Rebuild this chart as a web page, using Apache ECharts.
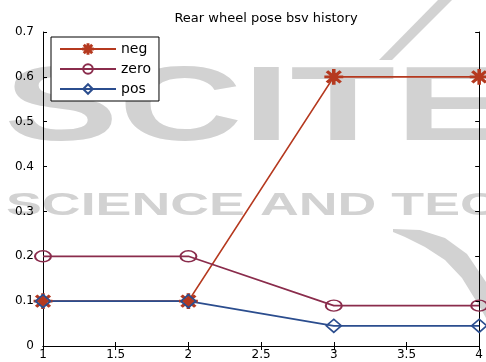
<!DOCTYPE html>
<html>
<head>
<meta charset="utf-8">
<script src="https://cdn.jsdelivr.net/npm/echarts@6/dist/echarts.min.js"></script>
<style>
  html, body { margin: 0; padding: 0; background: #fff; }
  #chart { width: 486px; height: 362px; }
</style>
</head>
<body>
<div id="chart"></div>
<script>
// bsv history, steps 1..4
const steps = [1, 2, 3, 4]
const negValues = [0.1, 0.1, 0.6, 0.6]
const zeroValues = [0.2, 0.2, 0.09, 0.09]
const posValues = [0.1, 0.1, 0.045, 0.045]

const FONT = '"DejaVu Sans", Verdana, sans-serif'
const MARK = '#d2d2d2'

// matlab style '*' marker
const asterisk = 'path://M0,9L20,9L20,11L0,11Z M9,0L11,0L11,20L9,20Z M2,3.4L3.4,2L18,16.6L16.6,18Z M16.6,2L18,3.4L3.4,18L2,16.6Z'

function pairs(values) {
  return steps.map((s, i) => [s, values[i]])
}

function lineSeries(name, values, color, symbol, size, fill) {
  return {
    name: name,
    type: 'line',
    data: pairs(values),
    symbol: symbol,
    symbolSize: size,
    showAllSymbol: true,
    lineStyle: { color: color, width: 1.7 },
    itemStyle: { color: fill, borderColor: color, borderWidth: 1.7 },
    emphasis: { disabled: true },
    z: 3
  }
}

const chart = echarts.init(document.getElementById('chart'))

chart.setOption({
  animation: false,
  backgroundColor: '#fff',
  title: {
    text: 'Rear wheel pose bsv history',
    left: 261,
    top: 7,
    textAlign: 'center',
    textStyle: { fontFamily: FONT, fontSize: 13, fontWeight: 'normal', color: '#000' }
  },
  // faint publisher watermark behind the plot
  graphic: [
    {
      type: 'text', x: 4, y: 58, scaleX: 1.62, z: 0, silent: true,
      style: { text: 'SCITE', font: 'bold 106px "Liberation Sans", Arial, sans-serif', fill: MARK }
    },
    {
      type: 'text', x: 6, y: 190, scaleX: 1.68, z: 0, silent: true,
      style: { text: 'SCIENCE AND TEC', font: 'bold 32px "Liberation Sans", Arial, sans-serif', fill: MARK }
    },
    {
      type: 'polygon', z: 0, silent: true,
      shape: { points: [[438, 0], [452, 0], [392, 60], [379, 60]] },
      style: { fill: MARK }
    },
    {
      type: 'polygon', z: 0, silent: true,
      shape: { points: [[393, 229], [420, 230], [445, 238], [467, 254], [486, 282], [486, 318],
        [478, 304], [462, 278], [445, 260], [425, 247], [405, 237], [393, 232]] },
      style: { fill: MARK }
    }
  ],
  legend: {
    orient: 'vertical',
    left: 51,
    top: 37,
    itemWidth: 56,
    itemHeight: 12,
    itemGap: 6,
    padding: [5, 8, 5, 8],
    backgroundColor: '#fff',
    borderColor: '#000',
    borderWidth: 1,
    borderRadius: 0,
    textStyle: { fontFamily: FONT, fontSize: 14, color: '#000' },
    data: ['neg', 'zero', 'pos']
  },
  grid: { left: 43, right: 3, top: 32, bottom: 16 },
  xAxis: [
    {
      type: 'value', min: 1, max: 4, interval: 0.5,
      axisLine: { lineStyle: { color: '#000', width: 1 } },
      axisTick: { inside: true, length: 4, lineStyle: { color: '#000' } },
      axisLabel: { color: '#000', fontFamily: FONT, fontSize: 12, margin: 3 },
      splitLine: { show: false }
    },
    {
      type: 'value', position: 'top', min: 1, max: 4, interval: 0.5,
      axisLine: { show: true, lineStyle: { color: '#000', width: 1 } },
      axisTick: { show: true, inside: true, length: 4, lineStyle: { color: '#000' } },
      axisLabel: { show: false },
      splitLine: { show: false }
    }
  ],
  yAxis: [
    {
      type: 'value', min: 0, max: 0.7, interval: 0.1,
      axisLine: { show: true, lineStyle: { color: '#000', width: 1 } },
      axisTick: { show: true, inside: true, length: 4, lineStyle: { color: '#000' } },
      axisLabel: { color: '#000', fontFamily: FONT, fontSize: 12, margin: 9 },
      splitLine: { show: false }
    },
    {
      type: 'value', position: 'right', min: 0, max: 0.7, interval: 0.1,
      axisLine: { show: true, lineStyle: { color: '#000', width: 1 } },
      axisTick: { show: true, inside: true, length: 4, lineStyle: { color: '#000' } },
      axisLabel: { show: false },
      splitLine: { show: false }
    }
  ],
  series: [
    lineSeries('neg', negValues, '#b5391f', asterisk, [17, 14], '#b5391f'),
    lineSeries('zero', zeroValues, '#8a2c4c', 'circle', [16, 11], 'transparent'),
    lineSeries('pos', posValues, '#2b4d8e', 'diamond', [15, 13], 'transparent')
  ]
})
</script>
</body>
</html>
